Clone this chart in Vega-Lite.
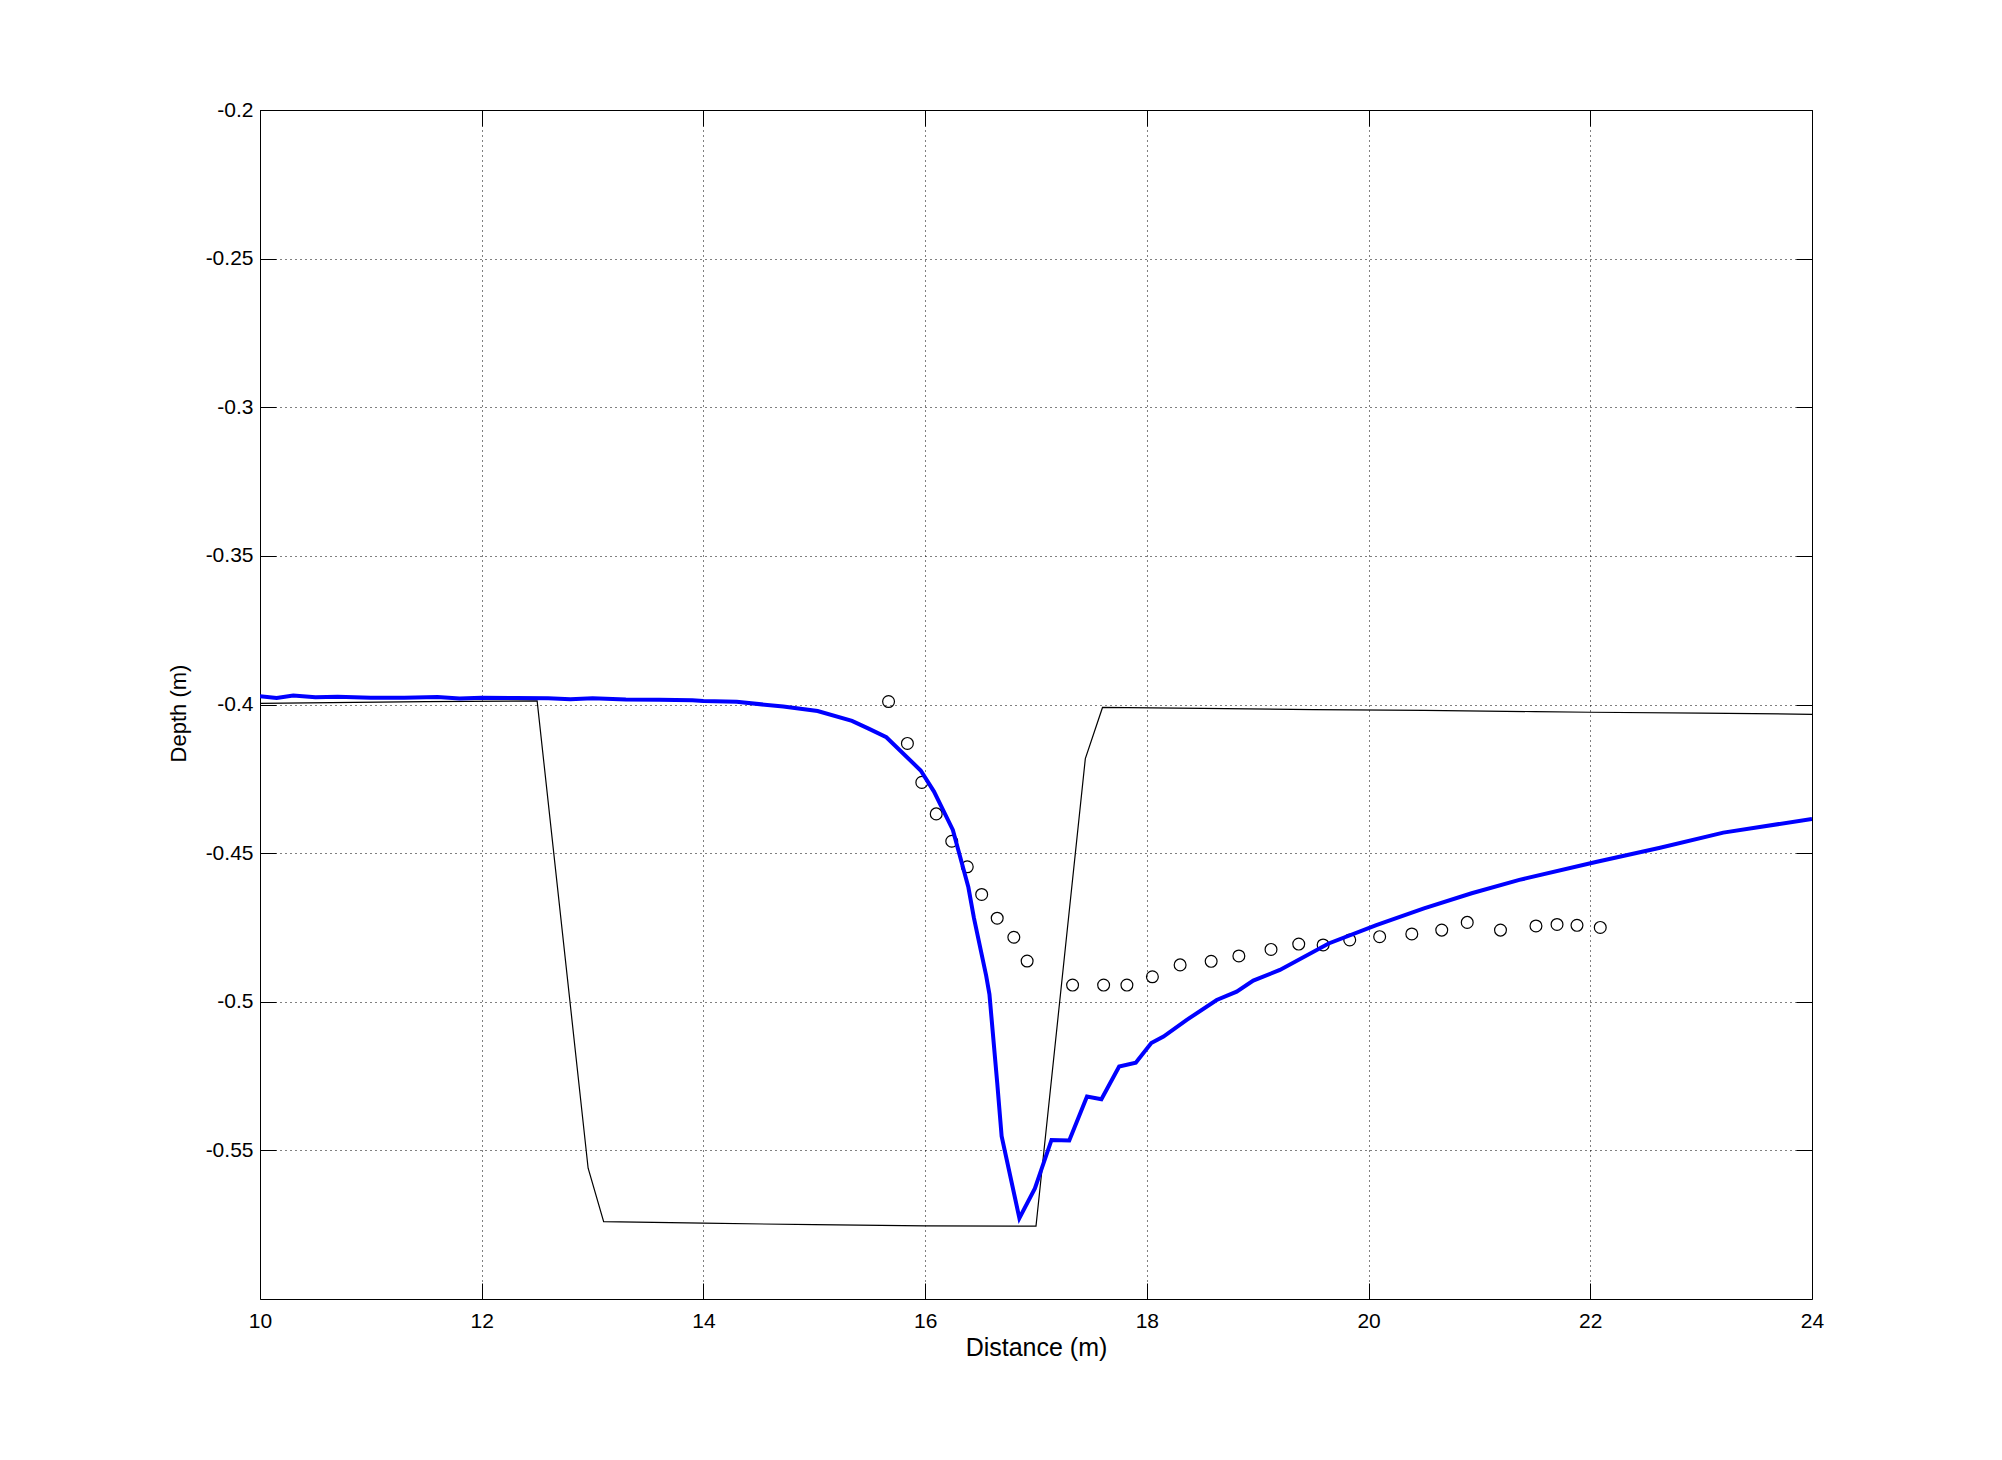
{
  "$schema": "https://vega.github.io/schema/vega-lite/v6.json",
  "width": 1552,
  "height": 1189,
  "autosize": {"type": "none"},
  "padding": {"left": 260, "top": 110, "right": 190, "bottom": 161},
  "background": "white",
  "config": {
    "view": {"stroke": "black", "strokeWidth": 1},
    "font": "Liberation Sans",
    "axis": {
      "labelFont": "Liberation Sans",
      "titleFont": "Liberation Sans",
      "labelColor": "black",
      "titleColor": "black",
      "titleFontWeight": "normal",
      "labelFontSize": 21,
      "labelFlush": false,
      "labelOverlap": false,
      "tickColor": "black",
      "tickSize": -16,
      "domain": false,
      "gridColor": "black",
      "gridOpacity": 1,
      "gridDash": [1, 4],
      "gridWidth": 1
    }
  },
  "datasets": {
    "bed": [
      {"x": 10.0, "y": -0.3996},
      {"x": 11.5, "y": -0.399},
      {"x": 12.5, "y": -0.3988},
      {"x": 12.96, "y": -0.556},
      {"x": 13.1, "y": -0.574},
      {"x": 14.0, "y": -0.5745},
      {"x": 15.0, "y": -0.575},
      {"x": 16.0, "y": -0.5754},
      {"x": 17.0, "y": -0.5755},
      {"x": 17.445, "y": -0.4182},
      {"x": 17.6, "y": -0.401},
      {"x": 18.5, "y": -0.4013},
      {"x": 19.5, "y": -0.4017},
      {"x": 20.5, "y": -0.402},
      {"x": 21.5, "y": -0.4024},
      {"x": 22.0, "y": -0.4026},
      {"x": 23.0, "y": -0.4029},
      {"x": 24.0, "y": -0.4033}
    ],
    "obs": [
      {"x": 15.67, "y": -0.399},
      {"x": 15.84, "y": -0.4131},
      {"x": 15.97, "y": -0.4262},
      {"x": 16.1, "y": -0.4368},
      {"x": 16.24, "y": -0.446},
      {"x": 16.38, "y": -0.4546},
      {"x": 16.51, "y": -0.4639},
      {"x": 16.65, "y": -0.4719},
      {"x": 16.8, "y": -0.4783},
      {"x": 16.92, "y": -0.4863},
      {"x": 17.33, "y": -0.4944},
      {"x": 17.61, "y": -0.4944},
      {"x": 17.82, "y": -0.4944},
      {"x": 18.05, "y": -0.4916},
      {"x": 18.3, "y": -0.4876},
      {"x": 18.58, "y": -0.4864},
      {"x": 18.83, "y": -0.4846},
      {"x": 19.12, "y": -0.4824},
      {"x": 19.37, "y": -0.4806},
      {"x": 19.59, "y": -0.4809},
      {"x": 19.83, "y": -0.4792},
      {"x": 20.1, "y": -0.4781},
      {"x": 20.39, "y": -0.4772},
      {"x": 20.66, "y": -0.4759},
      {"x": 20.89, "y": -0.4733},
      {"x": 21.19, "y": -0.4759},
      {"x": 21.51, "y": -0.4745},
      {"x": 21.7, "y": -0.474},
      {"x": 21.88, "y": -0.4743},
      {"x": 22.09, "y": -0.475}
    ],
    "model": [
      {"x": 10.0, "y": -0.3972},
      {"x": 10.15, "y": -0.3978},
      {"x": 10.3, "y": -0.397},
      {"x": 10.5, "y": -0.3976},
      {"x": 10.7, "y": -0.3974},
      {"x": 11.0, "y": -0.3977},
      {"x": 11.3, "y": -0.3977},
      {"x": 11.6, "y": -0.3975},
      {"x": 11.8, "y": -0.398},
      {"x": 12.0, "y": -0.3977},
      {"x": 12.3, "y": -0.3978},
      {"x": 12.6, "y": -0.3979},
      {"x": 12.8, "y": -0.3982},
      {"x": 13.0, "y": -0.3979},
      {"x": 13.3, "y": -0.3983},
      {"x": 13.6, "y": -0.3984},
      {"x": 13.9, "y": -0.3986},
      {"x": 14.0, "y": -0.3988},
      {"x": 14.3, "y": -0.3991},
      {"x": 14.72, "y": -0.4007},
      {"x": 15.03, "y": -0.4022},
      {"x": 15.34, "y": -0.4055},
      {"x": 15.49, "y": -0.4081},
      {"x": 15.65, "y": -0.411},
      {"x": 15.96, "y": -0.4222},
      {"x": 16.08, "y": -0.4293},
      {"x": 16.25, "y": -0.4422},
      {"x": 16.39, "y": -0.4615},
      {"x": 16.44, "y": -0.4718},
      {"x": 16.55, "y": -0.4911},
      {"x": 16.58, "y": -0.4975},
      {"x": 16.65, "y": -0.5272},
      {"x": 16.69, "y": -0.5452},
      {"x": 16.85, "y": -0.5728},
      {"x": 16.99, "y": -0.5628},
      {"x": 17.14, "y": -0.5465},
      {"x": 17.3, "y": -0.5467},
      {"x": 17.46, "y": -0.5319},
      {"x": 17.59, "y": -0.5328},
      {"x": 17.75, "y": -0.5218},
      {"x": 17.9, "y": -0.5205},
      {"x": 18.04, "y": -0.5139},
      {"x": 18.15, "y": -0.5117},
      {"x": 18.36, "y": -0.5061},
      {"x": 18.63, "y": -0.4994},
      {"x": 18.81, "y": -0.4966},
      {"x": 18.96, "y": -0.4929},
      {"x": 19.2, "y": -0.4893},
      {"x": 19.64, "y": -0.4804},
      {"x": 20.07, "y": -0.4742},
      {"x": 20.5, "y": -0.4686},
      {"x": 20.93, "y": -0.4635},
      {"x": 21.36, "y": -0.459},
      {"x": 22.05, "y": -0.453},
      {"x": 22.63, "y": -0.4482},
      {"x": 23.2, "y": -0.4431},
      {"x": 24.0, "y": -0.4385}
    ]
  },
  "resolve": {"axis": {"x": "independent", "y": "independent"}},
  "layer": [
    {
      "data": {"name": "bed"},
      "mark": {"type": "line", "color": "black", "strokeWidth": 1.2, "clip": true},
      "encoding": {
        "x": {
          "field": "x", "type": "quantitative",
          "scale": {"domain": [10, 24], "nice": false, "zero": false},
          "axis": {
            "orient": "bottom",
            "values": [10, 12, 14, 16, 18, 20, 22, 24],
            "grid": true,
            "labelPadding": 27,
            "labelExpr": "'' + datum.value",
            "title": "Distance (m)",
            "titleFontSize": 25,
            "titleBaseline": "alphabetic",
            "titleY": 56
          }
        },
        "y": {
          "field": "y", "type": "quantitative",
          "scale": {"domain": [-0.6, -0.2], "nice": false, "zero": false},
          "axis": {
            "orient": "left",
            "values": [-0.2, -0.25, -0.3, -0.35, -0.4, -0.45, -0.5, -0.55],
            "grid": true,
            "labelPadding": 23,
            "labelExpr": "'' + datum.value",
            "title": "Depth (m)",
            "titleFontSize": 22,
            "titleAngle": -90,
            "titleBaseline": "alphabetic",
            "titleAlign": "center",
            "titleX": -75,
            "titleY": 603
          }
        }
      }
    },
    {
      "data": {"name": "obs"},
      "mark": {"type": "point", "shape": "circle", "filled": false, "stroke": "black", "strokeWidth": 1.2, "size": 140, "opacity": 1},
      "encoding": {
        "x": {
          "field": "x", "type": "quantitative",
          "axis": {
            "orient": "top",
            "values": [10, 12, 14, 16, 18, 20, 22, 24],
            "grid": false,
            "labels": false,
            "title": null
          }
        },
        "y": {
          "field": "y", "type": "quantitative",
          "axis": {
            "orient": "right",
            "values": [-0.2, -0.25, -0.3, -0.35, -0.4, -0.45, -0.5, -0.55],
            "grid": false,
            "labels": false,
            "title": null
          }
        }
      }
    },
    {
      "data": {"name": "model"},
      "mark": {"type": "line", "color": "#0000ff", "strokeWidth": 4, "clip": true},
      "encoding": {
        "x": {"field": "x", "type": "quantitative", "axis": null},
        "y": {"field": "y", "type": "quantitative", "axis": null}
      }
    }
  ]
}
